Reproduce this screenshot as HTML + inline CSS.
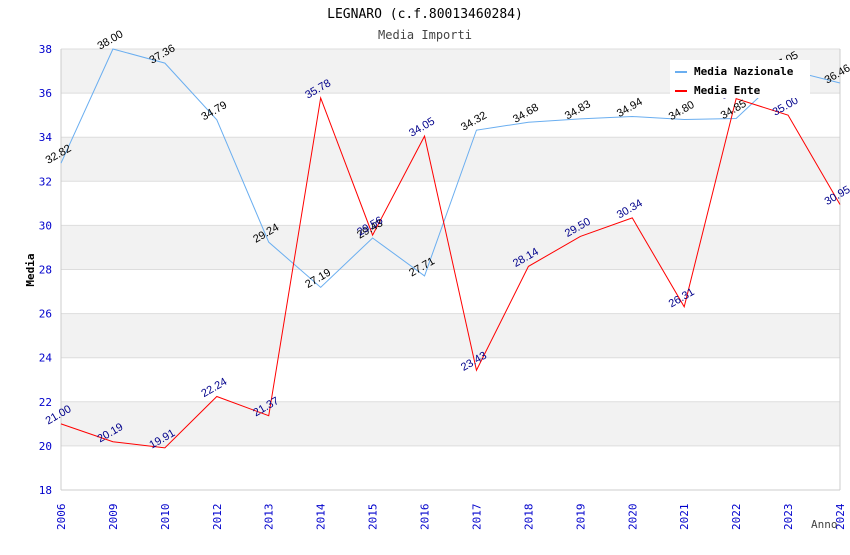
<!DOCTYPE html>
<html><head><meta charset="utf-8"><style>
body{margin:0;background:#fff;}
svg text{font-family:"DejaVu Sans Mono","Liberation Mono",monospace;}
svg text.val{font-family:"Liberation Sans",sans-serif;}
</style></head><body>
<svg id="c" width="850" height="550">
<text x="425" y="18" text-anchor="middle" font-size="13">LEGNARO (c.f.80013460284)</text>
<text x="425" y="39" text-anchor="middle" font-size="12" fill="#444">Media Importi</text>
<g id="grid"></g><g id="axes"></g><g id="series"></g><g id="labels"></g>
<text x="34" y="270" transform="rotate(-90 34 270)" text-anchor="middle" font-size="11" font-weight="bold">Media</text>
<text x="811" y="528" font-size="11" fill="#444">Anno</text>
<g>
<rect x="670" y="60" width="140" height="38" fill="#fff"/>
<line x1="675" y1="72" x2="687" y2="72" stroke="#6aaef0" stroke-width="2"/>
<text x="694" y="75" font-size="11" font-weight="bold">Media Nazionale</text>
<line x1="675" y1="91" x2="687" y2="91" stroke="#f00" stroke-width="2"/>
<text x="694" y="94" font-size="11" font-weight="bold">Media Ente</text>
</g>
</svg>
<script>
const categories=["2006","2009","2010","2012","2013","2014","2015","2016","2017","2018","2019","2020","2021","2022","2023","2024"];
const nazionale=[32.82,38.00,37.36,34.79,29.24,27.19,29.43,27.71,34.32,34.68,34.83,34.94,34.80,34.85,37.05,36.46];
const ente=[21.00,20.19,19.91,22.24,21.37,35.78,29.56,34.05,23.43,28.14,29.50,30.34,26.31,35.75,35.00,30.95];
const yTicks=[18,20,22,24,26,28,30,32,34,36,38];
const NS="http://www.w3.org/2000/svg";
const L=61,R=840,T=49,B=490,ymin=18,ymax=38;
const xs=i=>L+i*(R-L)/(categories.length-1);
const ys=v=>B-(v-ymin)/(ymax-ymin)*(B-T);
function mk(p,tag,a){const e=document.createElementNS(NS,tag);for(const k in a)e.setAttribute(k,a[k]);p.appendChild(e);return e;}
const grid=document.getElementById('grid'),axes=document.getElementById('axes'),ser=document.getElementById('series'),lab=document.getElementById('labels');
for(let j=0;j<yTicks.length-1;j++){
  if((yTicks.length-2-j)%2===0){const r=mk(grid,'rect',{x:L,y:ys(yTicks[j+1]),width:R-L,height:ys(yTicks[j])-ys(yTicks[j+1]),fill:'#f2f2f2'});
  
  }
}
yTicks.forEach(v=>{
  const l=mk(grid,'line',{x1:L,x2:R,y1:ys(v),y2:ys(v),stroke:'#ddd'});
  
  
  const t=mk(axes,'text',{x:L-9,y:ys(v)+4,'text-anchor':'end','font-size':11,fill:'#00c'});t.textContent=v;
  
  
});
mk(axes,'line',{x1:L,x2:L,y1:T,y2:B,stroke:'#ccc'});
mk(axes,'line',{x1:R,x2:R,y1:T,y2:B,stroke:'#ccc'});
mk(axes,'line',{x1:L,x2:R,y1:B,y2:B,stroke:'#ccc'});
categories.forEach((c,i)=>{
  const x=xs(i)+4,y=B+40;
  const t=mk(axes,'text',{x:x,y:y,transform:`rotate(-90 ${x} ${y})`,'font-size':11,fill:'#00c'});t.textContent=c;
  
  
});
function series(vals,color,lc,name){
  const p=mk(ser,'polyline',{points:vals.map((v,i)=>xs(i)+','+ys(v)).join(' '),fill:'none',stroke:color,'stroke-width':1});
  
  
  vals.forEach((v,i)=>{
    const x=xs(i)-1,y=ys(v)-6;
    const t=mk(lab,'text',{class:'val',x:x,y:y,transform:`rotate(-30 ${x} ${y})`,'text-anchor':'middle','font-size':11,fill:lc});t.textContent=v.toFixed(2);
    
    
  });
}
series(nazionale,'#6aaef0','#000','nazionale');
series(ente,'#f00','#00008b','ente');
</script>
</body></html>
